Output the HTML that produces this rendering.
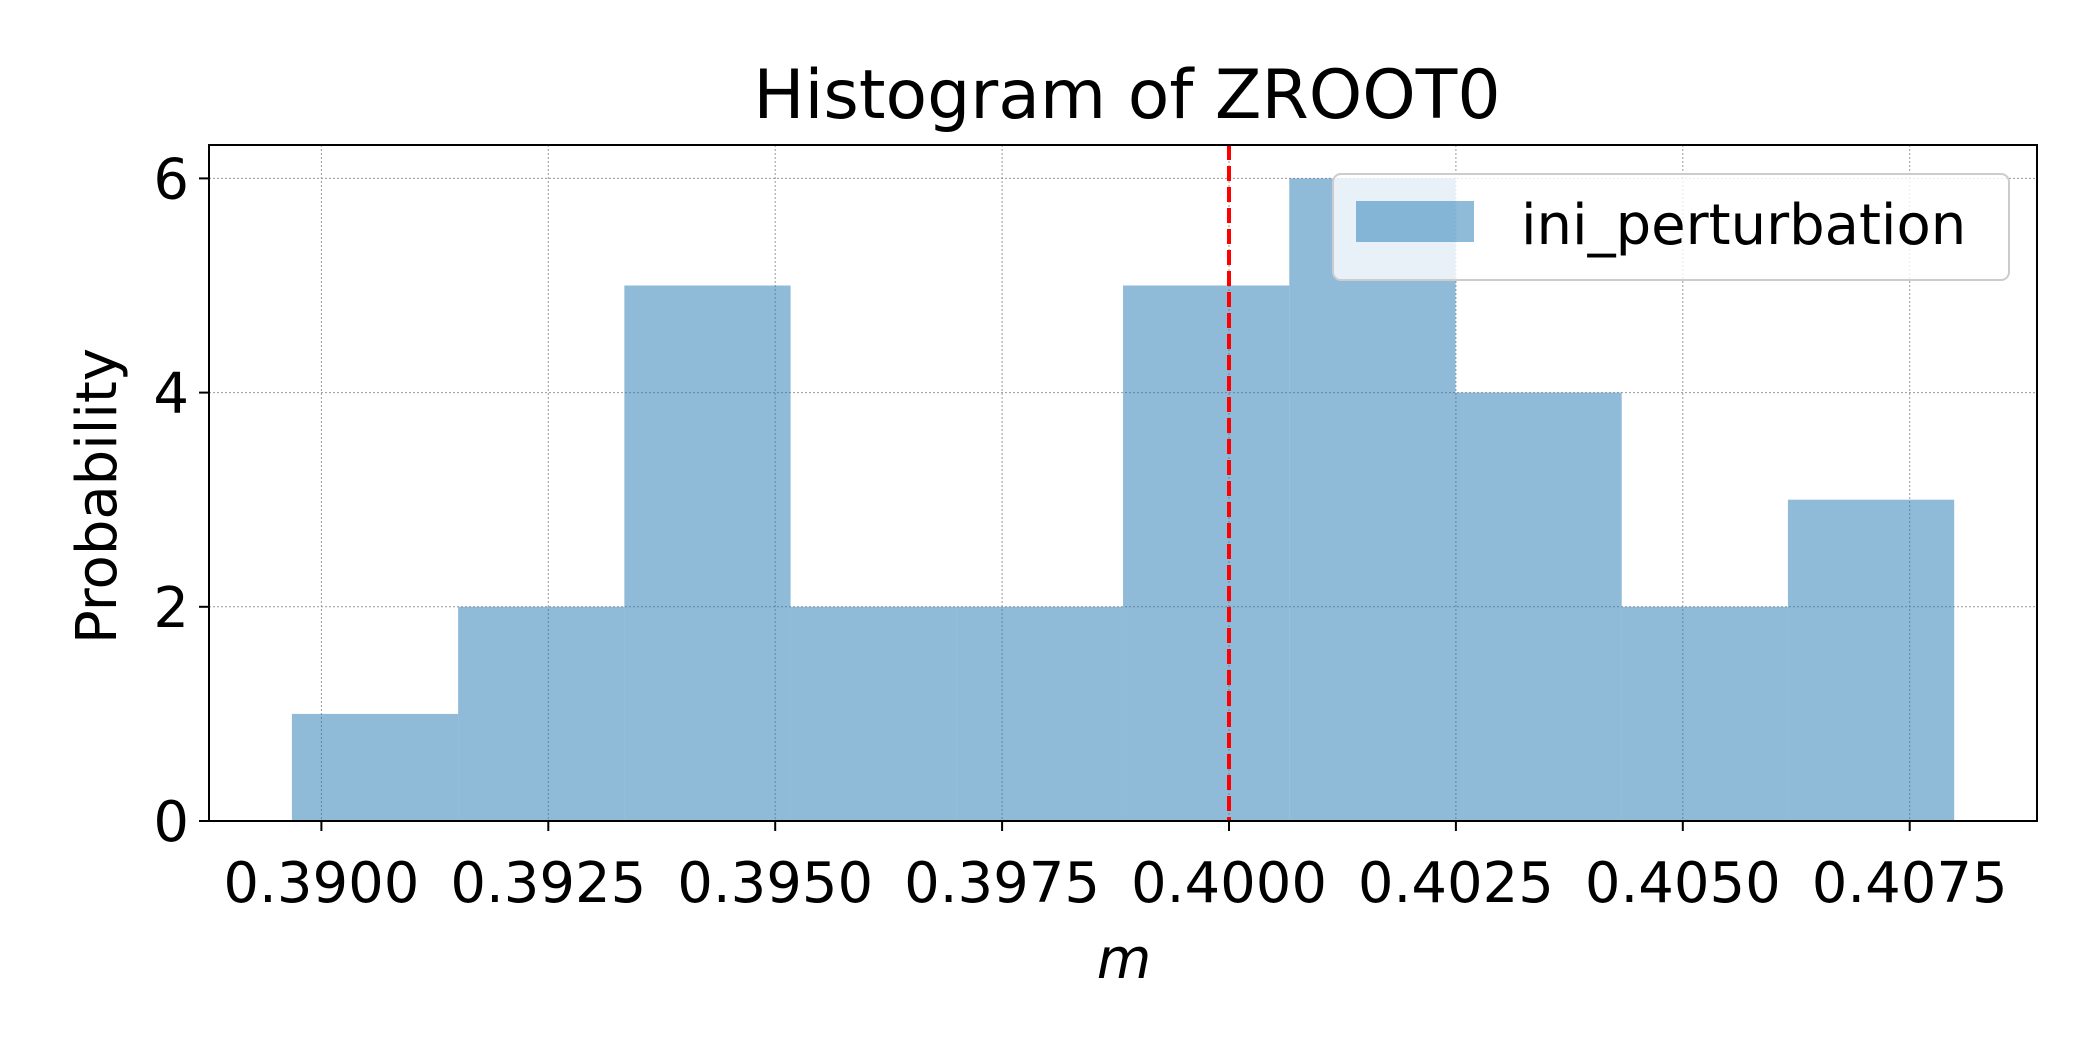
<!DOCTYPE html>
<html><head><meta charset="utf-8"><style>
html,body{margin:0;padding:0;background:#fff;overflow:hidden}
svg text{font-family:"DejaVu Sans","Liberation Sans",sans-serif;fill:#000}
</style></head><body>
<svg id="chart" width="2100" height="1050" viewBox="0 0 2100 1050" style="display:block">
<rect x="0" y="0" width="2100" height="1050" fill="#fff"/>
<g id="grid"></g><g id="bars"></g><g id="marks"></g><g id="axes"></g>
</svg>
<script>
const binStart = 0.389675;
const binWidth = 0.0018315;
const counts = [1,2,5,2,2,5,6,4,2,3];
const xTicks = [0.39,0.3925,0.395,0.3975,0.4,0.4025,0.405,0.4075];
const xTickLabels = ["0.3900","0.3925","0.3950","0.3975","0.4000","0.4025","0.4050","0.4075"];
const yTicks = [0,2,4,6];
const refLine = 0.4;

const L=209,R=2037,T=145,B=821;
const xs = v => 321.4 + (v-0.39)/0.0025*226.9;
const ys = v => 821 - v*107.1;
const NS="http://www.w3.org/2000/svg";
function mk(tag,parent,attrs){const e=document.createElementNS(NS,tag);for(const k in attrs)e.setAttribute(k,attrs[k]);document.getElementById(parent).appendChild(e);return e;}

xTicks.forEach((t,i)=>{
  const g=mk('line','grid',{x1:xs(t),x2:xs(t),y1:T,y2:B,stroke:'#999','stroke-width':1,'stroke-dasharray':'2,2'});
  
  
});
yTicks.forEach(t=>{
  const g=mk('line','grid',{x1:L,x2:R,y1:ys(t),y2:ys(t),stroke:'#999','stroke-width':1,'stroke-dasharray':'2,2'});
  
  
});
counts.forEach((c,i)=>{
  const x0=xs(binStart+i*binWidth), x1=xs(binStart+(i+1)*binWidth);
  const r=mk('rect','bars',{x:x0,y:ys(c),width:x1-x0,height:ys(0)-ys(c),fill:'#1f77b4','fill-opacity':0.5});
  
  
});
const rl=mk('line','marks',{x1:xs(refLine),x2:xs(refLine),y1:T,y2:B,stroke:'#ff0000','stroke-width':4,'stroke-dasharray':'15,6'});



const fr=mk('rect','axes',{x:L,y:T,width:R-L,height:B-T,fill:'none',stroke:'#000','stroke-width':2});


xTicks.forEach((t,i)=>{
  mk('line','axes',{x1:xs(t),x2:xs(t),y1:B,y2:B+10,stroke:'#000','stroke-width':2});
  const tx=mk('text','axes',{x:xs(t),y:902,'font-size':56,'text-anchor':'middle'});
  tx.textContent=xTickLabels[i];
  
  
});
yTicks.forEach(t=>{
  mk('line','axes',{x1:L-10,x2:L,y1:ys(t),y2:ys(t),stroke:'#000','stroke-width':2});
  const tx=mk('text','axes',{x:L-20,y:ys(t)+20,'font-size':56,'text-anchor':'end'});
  tx.textContent=String(t);
  
  
});
let e;
e=mk('text','axes',{x:(L+R)/2+4,y:118,'font-size':68,'text-anchor':'middle'});e.textContent='Histogram of ZROOT0';


e=mk('text','axes',{x:1124,y:978,'font-size':56,'text-anchor':'middle','font-style':'italic'});e.textContent='m';


const yc=(T+B)/2+13;
e=mk('text','axes',{x:116,y:yc,'font-size':56,'text-anchor':'middle',transform:'rotate(-90 116 '+yc+')'});e.textContent='Probability';


e=mk('rect','axes',{x:1333,y:174,width:676,height:106,rx:8,fill:'#fff','fill-opacity':0.8,stroke:'#ccc','stroke-width':2});


e=mk('rect','axes',{x:1356,y:201,width:118,height:41,fill:'#1f77b4','fill-opacity':0.5});


e=mk('text','axes',{x:1521,y:244,'font-size':56});e.textContent='ini_perturbation';


</script>
</body></html>
